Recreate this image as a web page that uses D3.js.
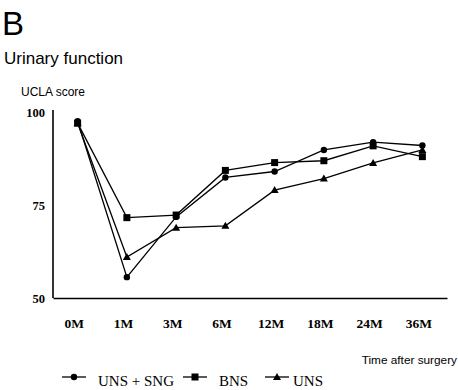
<!DOCTYPE html>
<html><head><meta charset="utf-8">
<script src="https://cdn.jsdelivr.net/npm/d3@7"></script>
<style>body{margin:0;background:#fff}svg{display:block}</style>
</head><body>
<svg id="c" width="458" height="390"></svg>
<script>
const categories = ["0M","1M","3M","6M","12M","18M","24M","36M"];
const unsSng = [97.5, 55.6, 71.8, 82.4, 84.0, 89.8, 91.9, 91.0];
const bns    = [97.0, 71.6, 72.3, 84.3, 86.4, 86.9, 90.9, 88.0];
const uns    = [97.0, 61.0, 68.9, 69.4, 79.0, 82.1, 86.3, 89.8];
const yTicks = [50, 75, 100];
const seriesNames = ["UNS + SNG", "BNS", "UNS"];

const svg = d3.select("#c");
const x = d3.scalePoint().domain(categories).range([53, 447]).padding(0.5);
const y = d3.scaleLinear().domain([50, 100]).range([298, 112]);

svg.append("text").attr("x", 2).attr("y", 35).attr("font-family", "Liberation Sans, Arial, sans-serif")
  .attr("font-size", 33).text("B");
svg.append("text").attr("x", 4).attr("y", 64).attr("font-family", "Liberation Sans, Arial, sans-serif")
  .attr("font-size", 17).text("Urinary function");
svg.append("text").attr("x", 21).attr("y", 96).attr("font-family", "Liberation Sans, Arial, sans-serif")
  .attr("font-size", 12).text("UCLA score");

// axes
const yAxis = d3.axisLeft(y).tickValues(yTicks).tickSize(0).tickPadding(8);
const gy = svg.append("g").attr("transform", "translate(53,0)").call(yAxis);
gy.select(".domain").attr("stroke", "#000").attr("stroke-width", 1.6).attr("d", `M0,${y(100)-2}V${y(50)}`);
gy.selectAll("text").attr("font-family", "Liberation Serif, Times New Roman, serif")
  .attr("font-weight", "bold").attr("font-size", 12.5).attr("fill", "#000");

const xAxis = d3.axisBottom(x).tickSize(0).tickPadding(20);
const gx = svg.append("g").attr("transform", "translate(0,298)").call(xAxis);
gx.select(".domain").attr("stroke", "#000").attr("stroke-width", 1.6);
gx.selectAll("text").attr("font-family", "Liberation Serif, Times New Roman, serif")
  .attr("font-weight", "bold").attr("font-size", 13.5).attr("fill", "#000").attr("dx", -4);

svg.append("text").attr("x", 457).attr("y", 364).attr("text-anchor", "end")
  .attr("font-family", "Liberation Sans, Arial, sans-serif").attr("font-size", 11.8).text("Time after surgery");

const line = d3.line().x((d, i) => x(categories[i])).y(d => y(d));
const data = [unsSng, bns, uns];
const shapes = ["circle", "square", "triangle"];

function marker(g, shape, cx, cy) {
  if (shape === "circle") g.append("circle").attr("cx", cx).attr("cy", cy).attr("r", 3.2).attr("fill", "#000");
  else if (shape === "square") g.append("rect").attr("x", cx - 3.5).attr("y", cy - 3.5).attr("width", 7).attr("height", 7).attr("fill", "#000");
  else g.append("path").attr("d", `M${cx},${cy-4}L${cx+4},${cy+3}L${cx-4},${cy+3}Z`).attr("fill", "#000");
}

data.forEach((vals, si) => {
  svg.append("path").datum(vals).attr("d", line).attr("fill", "none").attr("stroke", "#000").attr("stroke-width", 1.3);
  const g = svg.append("g");
  vals.forEach((v, i) => marker(g, shapes[si], x(categories[i]), y(v)));
});

// legend
const legX = [62, 183, 265];
const legY = 377;
seriesNames.forEach((name, i) => {
  const g = svg.append("g");
  g.append("line").attr("x1", legX[i]).attr("x2", legX[i] + 24).attr("y1", legY).attr("y2", legY).attr("stroke", "#000").attr("stroke-width", 1.3);
  marker(g, shapes[i], legX[i] + 12, legY);
  g.append("text").attr("x", legX[i] + (i === 2 ? 28 : 36)).attr("y", 386)
    .attr("font-family", "Liberation Serif, Times New Roman, serif").attr("font-size", 15).text(name);
});
</script>
</body></html>
